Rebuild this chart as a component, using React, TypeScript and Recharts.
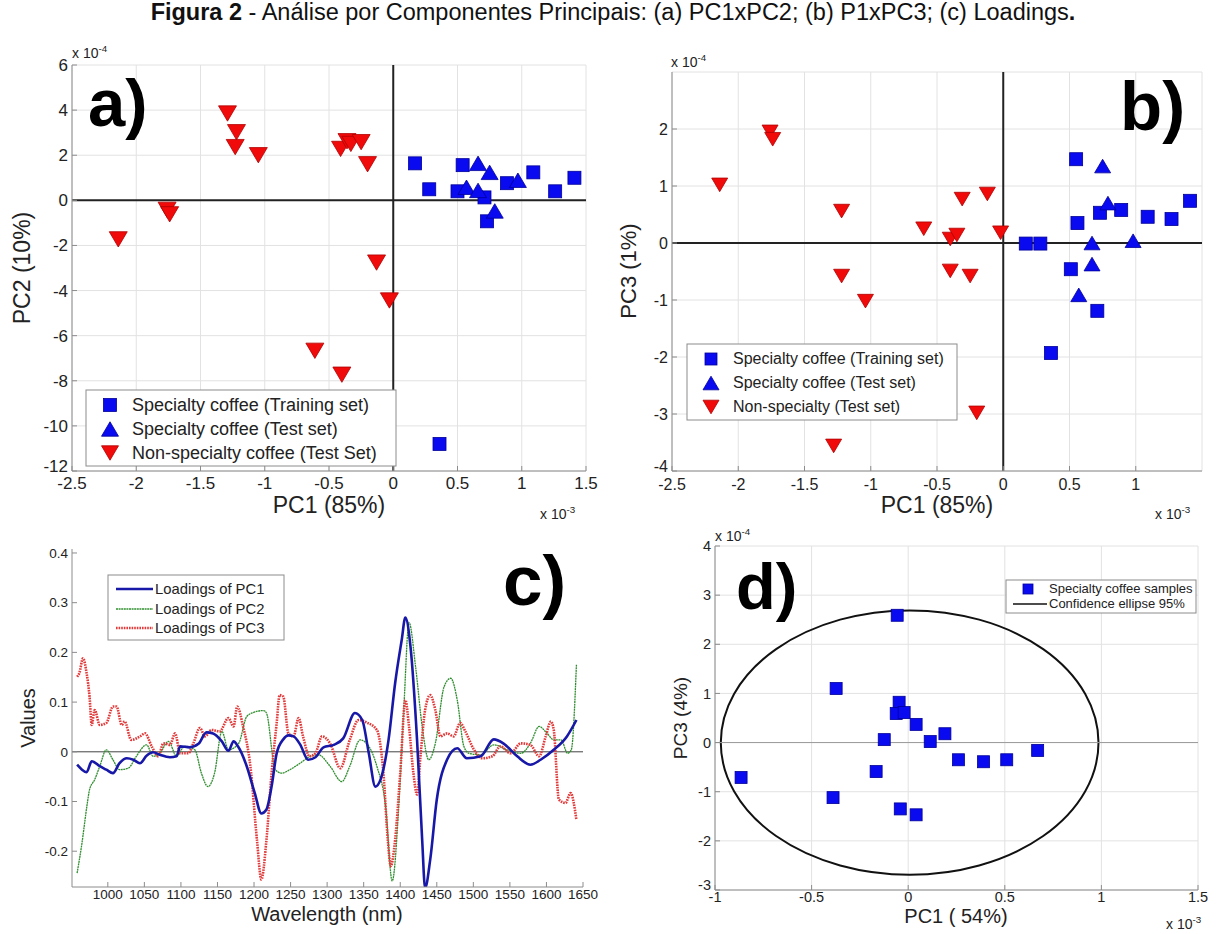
import React from "react";
import {
  ScatterChart,
  Scatter,
  LineChart,
  Line,
  XAxis,
  YAxis,
  CartesianGrid,
  ReferenceLine,
  ReferenceArea,
} from "recharts";

const FONT = "Arial, 'Liberation Sans', Helvetica, sans-serif";
const BLUE = "#0a0af0";
const BLUE_EDGE = "#00009a";
const RED = "#f00a0a";
const RED_EDGE = "#b00000";
const BOX = "#8c8c8c";
const GRID = "#e2e2e2";

// ---- panel a: PC1 x PC2 (x 1e-3, y 1e-4)
const aTrain = [
  [0.17, 1.64], [0.28, 0.49], [0.54, 1.56], [0.5, 0.4], [0.71, 0.13], [0.73, -0.93],
  [0.885, 0.76], [1.09, 1.24], [1.26, 0.4], [1.41, 1.0], [0.36, -10.8],
];
const aTest = [
  [0.66, 1.64], [0.75, 1.24], [0.57, 0.58], [0.66, 0.44], [0.97, 0.89], [0.79, -0.47],
];
const aNon = [
  [-1.29, 3.85], [-1.22, 3.02], [-1.23, 2.36], [-1.05, 2.0], [-0.41, 2.28], [-0.36, 2.62],
  [-0.33, 2.5], [-0.25, 2.58], [-0.2, 1.6], [-1.76, -0.42], [-1.74, -0.62], [-2.14, -1.73],
  [-0.13, -2.76], [-0.03, -4.44], [-0.61, -6.67], [-0.4, -7.73],
];
const aXTicks = [-2.5, -2, -1.5, -1, -0.5, 0, 0.5, 1, 1.5];
const aYTicks = [-12, -10, -8, -6, -4, -2, 0, 2, 4, 6];

// ---- panel b: PC1 x PC3
const bTrain = [
  [0.55, 1.47], [0.56, 0.35], [0.73, 0.53], [0.89, 0.58], [1.09, 0.46], [1.27, 0.42],
  [1.41, 0.74], [0.17, -0.01], [0.28, -0.01], [0.51, -0.46], [0.71, -1.19], [0.36, -1.93],
];
const bTest = [
  [0.75, 1.35], [0.79, 0.7], [0.67, 0.0], [0.98, 0.04], [0.67, -0.37], [0.57, -0.91],
];
const bNon = [
  [-2.14, 1.02], [-1.76, 1.95], [-1.74, 1.82], [-1.22, 0.56], [-1.22, -0.58], [-1.04, -1.02],
  [-1.28, -3.56], [-0.6, 0.25], [-0.4, 0.07], [-0.35, 0.14], [-0.31, 0.77], [-0.12, 0.86],
  [-0.02, 0.18], [-0.4, -0.49], [-0.25, -0.58], [-0.2, -2.98],
];
const bXTicks = [-2.5, -2, -1.5, -1, -0.5, 0, 0.5, 1];
const bYTicks = [-4, -3, -2, -1, 0, 1, 2];

// ---- panel c: loadings (wavelength nm, value)
const pc1 = [
  [958, -0.026], [964, -0.035], [971, -0.041], [978, -0.019], [989, -0.029], [998, -0.036],
  [1007, -0.043], [1016, -0.023], [1026, -0.013], [1035, -0.016], [1044, -0.023], [1053, -0.008],
  [1062, -0.001], [1071, -0.006], [1085, -0.011], [1094, -0.009], [1099, 0.011], [1112, 0.009],
  [1124, 0.016], [1135, 0.039], [1144, 0.037], [1156, 0.021], [1165, 0.002], [1172, 0.021],
  [1178, 0.011], [1190, -0.029], [1201, -0.083], [1210, -0.124], [1217, -0.116], [1224, -0.07],
  [1231, -0.003], [1240, 0.025], [1247, 0.033], [1254, 0.031], [1263, 0.015], [1274, -0.016],
  [1284, -0.011], [1295, 0.009], [1309, 0.014], [1322, 0.027], [1338, 0.078], [1348, 0.064],
  [1357, -0.003], [1366, -0.07], [1373, -0.056], [1384, 0.024], [1393, 0.138], [1402, 0.225],
  [1407, 0.27], [1414, 0.212], [1423, 0.024], [1430, -0.177], [1434, -0.274], [1441, -0.217],
  [1450, -0.096], [1464, -0.016], [1478, 0.007], [1491, -0.013], [1510, -0.009], [1528, 0.025],
  [1541, 0.017], [1560, -0.009], [1578, -0.026], [1592, -0.016], [1610, 0.004], [1628, 0.031],
  [1641, 0.064],
];
const pc2 = [
  [958, -0.244], [964, -0.19], [972, -0.103], [975, -0.076], [982, -0.056], [989, -0.029],
  [998, 0.004], [1007, -0.016], [1016, -0.036], [1028, -0.033], [1039, -0.009], [1053, 0.014],
  [1062, -0.009], [1071, -0.003], [1083, 0.021], [1094, -0.009], [1105, 0.011], [1119, 0.004],
  [1128, -0.043], [1137, -0.07], [1146, -0.043], [1156, 0.041], [1165, 0.004], [1179, 0.017],
  [1190, 0.071], [1199, 0.079], [1213, 0.083], [1217, 0.078], [1229, -0.036], [1238, -0.043],
  [1249, -0.036], [1263, -0.023], [1277, -0.009], [1288, -0.006], [1304, -0.029], [1320, -0.06],
  [1331, -0.029], [1345, 0.024], [1357, 0.011], [1368, -0.029], [1380, -0.11], [1389, -0.26],
  [1398, -0.11], [1405, 0.091], [1412, 0.26], [1421, 0.171], [1430, 0.051], [1439, -0.016],
  [1448, 0.017], [1460, 0.131], [1469, 0.148], [1478, 0.104], [1487, 0.011], [1494, -0.003],
  [1510, -0.006], [1528, 0.014], [1546, 0.004], [1565, -0.003], [1578, 0.017], [1590, 0.051],
  [1601, 0.037], [1610, 0.024], [1620, 0.024], [1629, -0.003], [1634, 0.004], [1641, 0.175],
];
const pc3 = [
  [958, 0.151], [961, 0.158], [966, 0.188], [971, 0.158], [975, 0.111], [978, 0.054],
  [982, 0.084], [989, 0.054], [998, 0.058], [1007, 0.091], [1012, 0.091], [1019, 0.054],
  [1023, 0.061], [1032, 0.024], [1044, 0.031], [1051, 0.037], [1060, 0.011], [1069, -0.009],
  [1076, 0.017], [1085, 0.014], [1092, 0.037], [1099, -0.003], [1110, -0.003], [1117, 0.017],
  [1126, 0.048], [1133, 0.031], [1142, 0.044], [1153, 0.041], [1165, 0.068], [1172, 0.051],
  [1177, 0.091], [1185, 0.051], [1195, -0.029], [1204, -0.177], [1210, -0.257], [1217, -0.177],
  [1224, -0.043], [1231, 0.058], [1235, 0.114], [1240, 0.111], [1247, 0.037], [1254, 0.031],
  [1261, 0.068], [1267, 0.031], [1276, -0.009], [1284, -0.003], [1293, 0.031], [1304, 0.017],
  [1318, -0.033], [1331, 0.024], [1343, 0.064], [1354, 0.059], [1368, 0.044], [1377, -0.043],
  [1383, -0.177], [1387, -0.23], [1393, -0.177], [1400, -0.043], [1407, 0.104], [1412, 0.051],
  [1418, -0.043], [1423, -0.086], [1428, -0.003], [1434, 0.084], [1441, 0.114], [1448, 0.084],
  [1455, 0.031], [1464, 0.037], [1473, 0.031], [1482, 0.058], [1489, 0.041], [1501, 0.004],
  [1512, -0.013], [1526, -0.009], [1537, 0.011], [1551, -0.003], [1565, 0.017], [1578, 0.014],
  [1590, -0.009], [1599, 0.031], [1606, 0.061], [1610, 0.044], [1617, -0.096], [1626, -0.103],
  [1633, -0.083], [1641, -0.137],
];
const cXTicks = [1000, 1050, 1100, 1150, 1200, 1250, 1300, 1350, 1400, 1450, 1500, 1550, 1600, 1650];
const cYTicks = [-0.2, -0.1, 0, 0.1, 0.2, 0.3, 0.4];

// ---- panel d: specialty samples + 95% ellipse
const dSamples = [
  [-0.057, 2.59], [-0.373, 1.1], [-0.047, 0.82], [-0.062, 0.59], [-0.021, 0.61], [0.041, 0.37],
  [-0.124, 0.06], [-0.166, -0.59], [-0.865, -0.71], [-0.389, -1.12], [-0.041, -1.35], [0.041, -1.47],
  [0.114, 0.02], [0.19, 0.18], [0.26, -0.35], [0.39, -0.39], [0.51, -0.35], [0.67, -0.16],
];
const dEllipseX = [-0.97, 0.985];
const dEllipseY = [-2.69, 2.69];
const dXTicks = [-1, -0.5, 0, 0.5, 1, 1.5];
const dYTicks = [-3, -2, -1, 0, 1, 2, 3, 4];

const xy = (arr: number[][]) => arr.map(([x, y]) => ({ x, y }));
const wv = (arr: number[][]) => arr.map(([w, v]) => ({ w, v }));

const square = (s: number) => (p: any) => (
  <rect x={p.cx - s / 2} y={p.cy - s / 2} width={s} height={s} fill={BLUE} stroke={BLUE_EDGE} strokeWidth={0.8} />
);
const triUp = (s: number) => (p: any) => {
  const h = s * 0.85;
  return (
    <polygon
      points={`${p.cx},${p.cy - h / 2} ${p.cx + s / 2},${p.cy + h / 2} ${p.cx - s / 2},${p.cy + h / 2}`}
      fill={BLUE}
      stroke={BLUE_EDGE}
      strokeWidth={0.8}
    />
  );
};
const triDown = (s: number) => (p: any) => {
  const h = s * 0.85;
  return (
    <polygon
      points={`${p.cx - s / 2},${p.cy - h / 2} ${p.cx + s / 2},${p.cy - h / 2} ${p.cx},${p.cy + h / 2}`}
      fill={RED}
      stroke={RED_EDGE}
      strokeWidth={0.8}
    />
  );
};

// y tick label; one sitting on the bottom edge is lifted a little so it clears the x labels
const yTick = (fs: number, bottom: number) => (p: any) => (
  <text x={p.x} y={p.y + (p.payload.value === bottom ? -5 : 0)} dy="0.355em" textAnchor="end"
    fontSize={fs} fill="#222" fontFamily={FONT}>
    {String(p.payload.value)}
  </text>
);

// box-style axes with inward ticks on all four sides
function frame(xKey: string, yKey: string, xd: number[], yd: number[], xt: number[], yt: number[], fs: number, xm = 9, ym = 9) {
  const tick = { fontSize: fs, fill: "#222", fontFamily: FONT };
  return [
    <XAxis key="xb" type="number" dataKey={xKey} domain={xd} ticks={xt} interval={0} allowDataOverflow
      tick={tick} tickSize={-5} tickMargin={xm} stroke={BOX} height={30} tickFormatter={(v) => String(v)} />,
    <XAxis key="xt" xAxisId="top" orientation="top" type="number" domain={xd} ticks={xt} interval={0}
      allowDataOverflow tick={false} tickSize={-5} stroke={BOX} height={0} />,
    <YAxis key="yl" type="number" dataKey={yKey} domain={yd} ticks={yt} interval={0} allowDataOverflow
      tick={yTick(fs, yd[0])} tickSize={-5} tickMargin={ym} stroke={BOX} width={60} />,
    <YAxis key="yr" yAxisId="right" orientation="right" type="number" domain={yd} ticks={yt} interval={0}
      allowDataOverflow tick={false} tickSize={-5} stroke={BOX} width={0} />,
  ];
}

function PanelA() {
  return (
    <ScatterChart width={594} height={466} margin={{ top: 20, right: 20, bottom: 10, left: 0 }}>
      <CartesianGrid stroke={GRID} />
      {frame("x", "y", [-2.5, 1.5], [-12, 6], aXTicks, aYTicks, 17, 11, 9)}
      <ReferenceLine x={0} stroke="#222" strokeWidth={2} />
      <ReferenceLine y={0} stroke="#222" strokeWidth={2} />
      <Scatter data={xy(aNon)} shape={triDown(18)} isAnimationActive={false} />
      <Scatter data={xy(aTrain)} shape={square(13)} isAnimationActive={false} />
      <Scatter data={xy(aTest)} shape={triUp(17)} isAnimationActive={false} />
    </ScatterChart>
  );
}

function PanelB() {
  return (
    <ScatterChart width={600} height={459} margin={{ top: 20, right: 10, bottom: 10, left: 0 }}>
      <CartesianGrid stroke={GRID} />
      {frame("x", "y", [-2.5, 1.5], [-4, 3], bXTicks, bYTicks, 16, 13, 9)}
      <ReferenceLine x={0} stroke="#222" strokeWidth={2} />
      <ReferenceLine y={0} stroke="#222" strokeWidth={2} />
      <Scatter data={xy(bNon)} shape={triDown(16)} isAnimationActive={false} />
      <Scatter data={xy(bTrain)} shape={square(13)} isAnimationActive={false} />
      <Scatter data={xy(bTest)} shape={triUp(16)} isAnimationActive={false} />
    </ScatterChart>
  );
}

function PanelC() {
  return (
    <LineChart width={591} height={398} margin={{ top: 20, right: 20, bottom: 10, left: 0 }}>
      {frame("w", "v", [951, 1650], [-0.272, 0.408], cXTicks, cYTicks, 13.5, 7, 9)}
      <ReferenceLine y={0} stroke="#444" strokeWidth={1} />
      <Line data={wv(pc2)} dataKey="v" type="monotone" dot={false} stroke="#2f8f2f" strokeWidth={1.3}
        strokeDasharray="2 0.6" isAnimationActive={false} />
      <Line data={wv(pc3)} dataKey="v" type="monotone" dot={false} stroke="#e23a3a" strokeWidth={2.6}
        strokeDasharray="1.6 1" isAnimationActive={false} />
      <Line data={wv(pc1)} dataKey="v" type="monotone" dot={false} stroke="#1818a8" strokeWidth={2.6}
        isAnimationActive={false} />
    </LineChart>
  );
}

function PanelD() {
  return (
    <ScatterChart width={553} height={404} margin={{ top: 20, right: 10, bottom: 10, left: 0 }}>
      <CartesianGrid stroke={GRID} />
      {frame("x", "y", [-1, 1.5], [-3, 4], dXTicks, dYTicks, 14.5, 7, 9)}
      <ReferenceLine y={0} stroke="#999" strokeWidth={1} />
      <ReferenceArea
        x1={dEllipseX[0]} x2={dEllipseX[1]} y1={dEllipseY[0]} y2={dEllipseY[1]}
        shape={(p: any) => (
          <ellipse cx={p.x + p.width / 2} cy={p.y + p.height / 2} rx={p.width / 2} ry={p.height / 2}
            fill="none" stroke="#111" strokeWidth={2} />
        )}
      />
      <Scatter data={xy(dSamples)} shape={square(12)} isAnimationActive={false} />
    </ScatterChart>
  );
}

const Exp = ({ x, y, p, fs = 14 }: { x: number; y: number; p: string; fs?: number }) => (
  <text x={x} y={y} fontSize={fs} fill="#222">
    x 10<tspan dy={-fs * 0.45} fontSize={fs * 0.7}>{p}</tspan>
  </text>
);

function Overlay() {
  const mk = (kind: string, cx: number, cy: number, s: number) => {
    if (kind === "sq") return square(s)({ cx, cy });
    if (kind === "up") return triUp(s)({ cx, cy });
    return triDown(s)({ cx, cy });
  };
  const legA = [["sq", "Specialty coffee (Training set)"], ["up", "Specialty coffee (Test set)"], ["down", "Non-specialty coffee (Test Set)"]];
  const legB = [["sq", "Specialty coffee (Training set)"], ["up", "Specialty coffee (Test set)"], ["down", "Non-specialty (Test set)"]];
  return (
    <svg width={1220} height={934} style={{ position: "absolute", left: 0, top: 0, pointerEvents: "none" }} fontFamily={FONT}>
      <text x={613} y={20} textAnchor="middle" fontSize={23.5} fill="#111">
        <tspan fontWeight="bold">Figura 2</tspan> - Análise por Componentes Principais: (a) PC1xPC2; (b) P1xPC3; (c) Loadings<tspan fontWeight="bold">.</tspan>
      </text>

      {/* panel a */}
      <text x={88} y={126} fontSize={67} fontWeight="bold" fill="#000">a)</text>
      <Exp x={72} y={58} p="-4" />
      <Exp x={540} y={519} p="-3" />
      <text x={329} y={513} textAnchor="middle" fontSize={23} fill="#222">PC1 (85%)</text>
      <text transform="translate(30,268) rotate(-90)" textAnchor="middle" fontSize={23} fill="#222">PC2 (10%)</text>
      <rect x={86} y={390} width={310} height={76} fill="#fff" stroke={BOX} />
      {legA.map(([k, t], i) => (
        <g key={t}>
          {mk(k, 110, 405 + i * 24, k === "sq" ? 13 : 17)}
          <text x={132} y={411 + i * 24} fontSize={18} fill="#222">{t}</text>
        </g>
      ))}

      {/* panel b */}
      <text x={1120} y={130} fontSize={69} fontWeight="bold" fill="#000">b)</text>
      <Exp x={671} y={67} p="-4" />
      <Exp x={1155} y={519} p="-3" />
      <text x={937} y={513} textAnchor="middle" fontSize={23} fill="#222">PC1 (85%)</text>
      <text transform="translate(636,271) rotate(-90)" textAnchor="middle" fontSize={22} fill="#222">PC3 (1%)</text>
      <rect x={687} y={344} width={270} height={76} fill="#fff" stroke={BOX} />
      {legB.map(([k, t], i) => (
        <g key={t}>
          {mk(k, 711, 359 + i * 24, k === "sq" ? 12 : 16)}
          <text x={733} y={364 + i * 24} fontSize={16} fill="#222">{t}</text>
        </g>
      ))}

      {/* panel c */}
      <text x={503} y={605} fontSize={71} fontWeight="bold" fill="#000">c)</text>
      <text x={327} y={921} textAnchor="middle" fontSize={20} fill="#222">Wavelength (nm)</text>
      <text transform="translate(35,718) rotate(-90)" textAnchor="middle" fontSize={20} fill="#222">Values</text>
      <rect x={108} y={575} width={176} height={65} fill="#fff" stroke={BOX} />
      <line x1={116} x2={153} y1={589} y2={589} stroke="#1818a8" strokeWidth={2.6} />
      <line x1={116} x2={153} y1={609} y2={609} stroke="#2f8f2f" strokeWidth={1.3} strokeDasharray="2 0.6" />
      <line x1={116} x2={153} y1={628} y2={628} stroke="#e23a3a" strokeWidth={2.6} strokeDasharray="1.6 1" />
      <text x={155} y={594} fontSize={14.8} fill="#222">Loadings of PC1</text>
      <text x={155} y={614} fontSize={14.8} fill="#222">Loadings of PC2</text>
      <text x={155} y={633} fontSize={14.8} fill="#222">Loadings of PC3</text>

      {/* panel d */}
      <text x={736} y={609} fontSize={65} fontWeight="bold" fill="#000">d)</text>
      <Exp x={715} y={541} p="-4" />
      <Exp x={1166} y={929} p="-3" />
      <text x={956} y={923} textAnchor="middle" fontSize={20} fill="#222">PC1 ( 54%)</text>
      <text transform="translate(687,718) rotate(-90)" textAnchor="middle" fontSize={19} fill="#222">PC3 (4%)</text>
      <rect x={1006} y={580} width={190} height={33} fill="#fff" stroke={BOX} />
      {square(10)({ cx: 1028, cy: 589 })}
      <line x1={1013} x2={1047} y1={604} y2={604} stroke="#111" strokeWidth={1.5} />
      <text x={1049} y={593} fontSize={13} fill="#222">Specialty coffee samples</text>
      <text x={1049} y={608} fontSize={13} fill="#222">Confidence ellipse 95%</text>
    </svg>
  );
}

export default function App() {
  return (
    <div style={{ position: "absolute", left: 0, top: 0, width: 1220, height: 934, background: "#fff", overflow: "hidden", fontFamily: FONT }}>
      <div style={{ position: "absolute", left: 12, top: 45 }}><PanelA /></div>
      <div style={{ position: "absolute", left: 612, top: 52 }}><PanelB /></div>
      <div style={{ position: "absolute", left: 12, top: 529 }}><PanelC /></div>
      <div style={{ position: "absolute", left: 655, top: 526 }}><PanelD /></div>
      <Overlay />
    </div>
  );
}
